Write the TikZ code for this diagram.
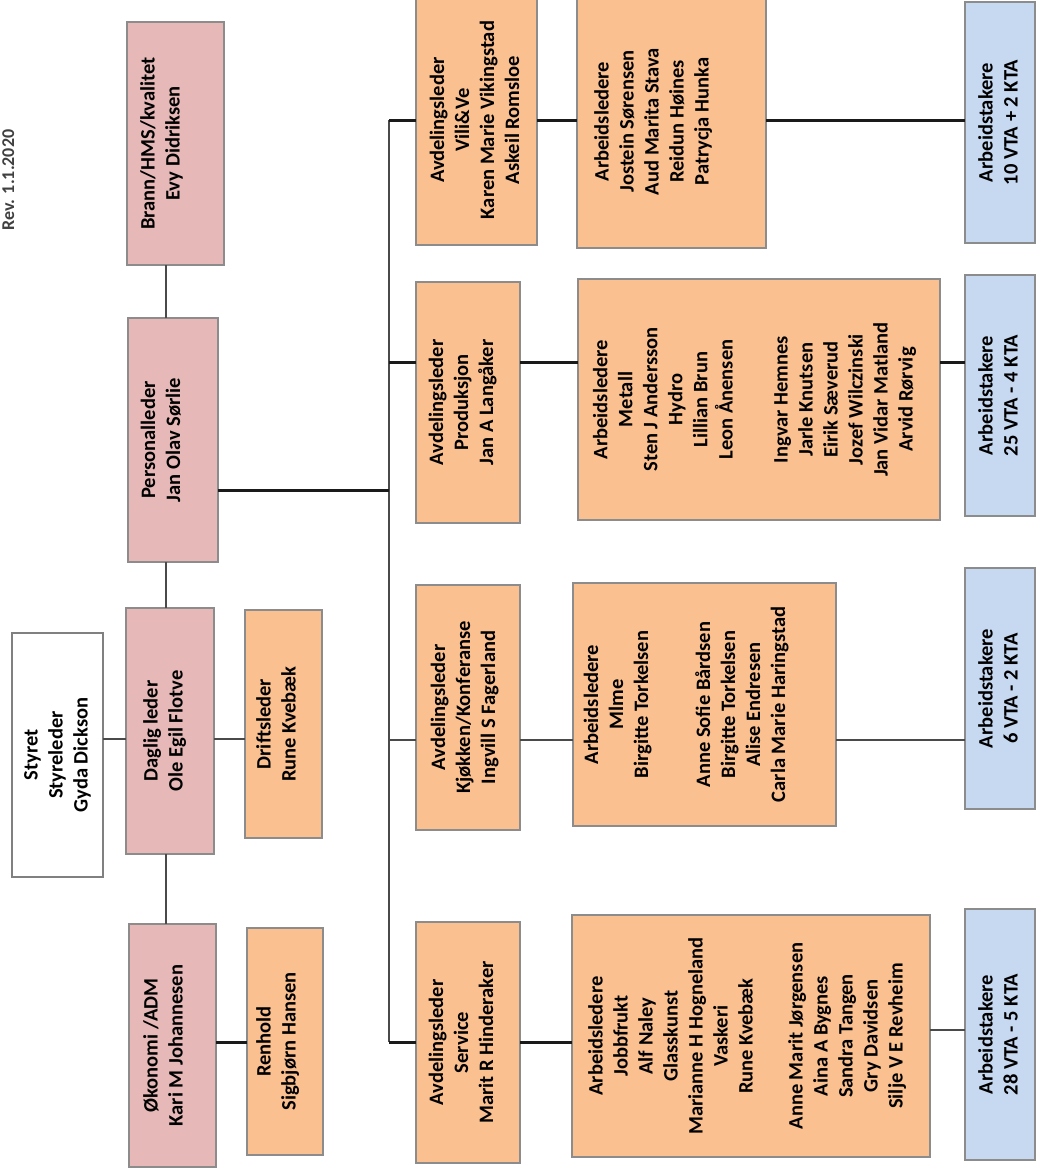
\documentclass[tikz,border=0pt]{standalone}
\usepackage{fontspec}
\setmainfont{Carlito}
\usepackage{graphicx}
\definecolor{pinkf}{HTML}{E6B9B8}
\definecolor{orangef}{HTML}{FAC090}
\definecolor{bluef}{HTML}{C6D9F1}
\definecolor{bordergray}{HTML}{8C8C8C}
\definecolor{lnthick}{HTML}{1A1A1A}
\definecolor{lnthin}{HTML}{4A4A4A}
\newcommand\rt[2][0pt]{\hspace*{#1}\rotatebox{90}{\fontsize{20.5}{25}\selectfont\bfseries\begin{tabular}{@{}c@{}}#2\end{tabular}}}
\newcommand\obox[8][0pt]{%
  \pgfmathsetmacro\bcx{(#4+#6)/2}\pgfmathsetmacro\bcy{(#5+#7)/2}%
  \pgfmathsetmacro\bw{#6-#4}\pgfmathsetmacro\bh{#7-#5}%
  \node[#2, minimum width=\bw pt, minimum height=\bh pt] (#3) at (\bcx,\bcy) {\rt[#1]{#8}};}
\tikzset{
  bx/.style={draw=bordergray, line width=1.2pt, inner sep=0pt, outer sep=0pt},
  pinkbox/.style={bx, fill=pinkf},
  orbox/.style={bx, fill=orangef},
  bluebox/.style={bx, fill=bluef},
  whitebox/.style={bx, fill=white, draw=gray},
  thickln/.style={line width=3pt, draw=lnthick},
  thinln/.style={line width=1.6pt, draw=lnthin},
  busln/.style={line width=2.2pt, draw=lnthin},
}
\begin{document}
\begin{tikzpicture}[x=1pt,y=-1pt]
\useasboundingbox (0,0) rectangle (1036,1175);
\fill[white] (0,0) rectangle (1036,1175);

% revision note at the left edge
\node[rotate=90, anchor=north, inner sep=0pt, font=\fontsize{18}{20}\selectfont\bfseries, text=black!75] (rev) at (2,180) {Rev. 1.1.2020};

% named routing coordinates
\coordinate (c1) at (166,0);
\coordinate (bus) at (389,0);
\coordinate (r1) at (0,739);
\coordinate (r2) at (0,1042);
\coordinate (rp) at (0,490);
\coordinate (rv) at (0,120);
\coordinate (rpr) at (0,362);
\coordinate (rk) at (0,740);
\coordinate (rs) at (0,1042);
\coordinate (rsb) at (0,1030);

% management column
\obox[-27pt]{pinkbox}{brann}{127}{22}{224}{265}{Brann/HMS/kvalitet\\Evy Didriksen}
\obox[-21pt]{pinkbox}{pers}{128}{318}{218}{562}{Personalleder\\Jan Olav Sørlie}
\obox[-10pt]{pinkbox}{daglig}{126}{608}{214}{854}{Daglig leder\\Ole Egil Flotve}
\obox{whitebox}{styret}{12}{633}{103}{877}{Styret\\Styreleder\\Gyda Dickson}
\obox[-11pt]{orbox}{drift}{245}{610}{322}{838}{Driftsleder\\Rune Kvebæk}
\obox[-15pt]{pinkbox}{okon}{129}{924}{216}{1167}{Økonomi /ADM\\Kari M Johannesen}
\obox[-14pt]{orbox}{renhold}{247}{928}{323}{1155}{Renhold\\Sigbjørn Hansen}

% departments
\obox{orbox}{vili}{416}{-5}{537}{245}{Avdelingsleder\\Vili\&Ve\\Karen Marie Vikingstad\\Askeil Romsloe}
\obox[-36pt]{orbox}{viliarb}{577}{-5}{766}{248}{Arbeidsledere\\Jostein Sørensen\\Aud Marita Stava\\Reidun Høines\\Patrycja Hunka}
\obox{bluebox}{viliblue}{965}{2}{1035}{243}{Arbeidstakere\\10 VTA + 2 KTA}

\obox[-10pt]{orbox}{prod}{416}{282}{520}{523}{Avdelingsleder\\Produksjon\\Jan A Langåker}
\obox[-8pt]{orbox}{prodarb}{578}{279}{940}{520}{Arbeidsledere\\Metall\\Sten J Andersson\\Hydro\\Lillian Brun\\Leon Ånensen\\[30pt]Ingvar Hemnes\\Jarle Knutsen\\Eirik Sæverud\\Jozef Wilczinski\\Jan Vidar Matland\\Arvid Rørvig}
\obox{bluebox}{prodblue}{965}{275}{1035}{516}{Arbeidstakere\\25 VTA - 4 KTA}

\obox[-6pt]{orbox}{kjok}{416}{585}{520}{830}{Avdelingsleder\\Kjøkken/Konferanse\\Ingvill S Fagerland}
\obox[-36pt]{orbox}{kjokarb}{573}{583}{836}{826}{Arbeidsledere\\Mlme\\Birgitte Torkelsen\\[37pt]Anne Sofie Bårdsen\\Birgitte Torkelsen\\Alise Endresen\\Carla Marie Haringstad}
\obox{bluebox}{kjokblue}{965}{568}{1035}{809}{Arbeidstakere\\6 VTA - 2 KTA}

\obox[-10pt]{orbox}{serv}{416}{922}{520}{1163}{Avdelingsleder\\Service\\Marit R Hinderaker}
\obox[-7pt]{orbox}{servarb}{572}{915}{930}{1157}{Arbeidsledere\\Jobbfrukt\\Alf Naley\\Glasskunst\\Marianne H Hogneland\\Vaskeri\\Rune Kvebæk\\[25pt]Anne Marit Jørgensen\\Aina A Bygnes\\Sandra Tangen\\Gry Davidsen\\Silje V E Revheim}
\obox{bluebox}{servblue}{965}{909}{1035}{1160}{Arbeidstakere\\28 VTA - 5 KTA}

% management connectors
\draw[thinln] (brann.south -| c1) -- (pers.north -| c1);
\draw[thinln] (pers.south -| c1) -- (daglig.north -| c1);
\draw[thinln] (daglig.south -| c1) -- (okon.north -| c1);
\draw[thinln] (styret.east |- r1) -- (daglig.west |- r1);
\draw[thinln] (daglig.east |- r1) -- (drift.west |- r1);
\draw[thickln] (okon.east |- r2) -- (renhold.west |- r2);

% bus
\draw[busln] (bus |- rv) -- (bus |- rs);
\draw[thickln] (pers.east |- rp) -- (bus |- rp);

% department rows
\draw[thickln] (bus |- rv) -- (vili.west |- rv);
\draw[thickln] (vili.east |- rv) -- (viliarb.west |- rv);
\draw[thickln] (viliarb.east |- rv) -- (viliblue.west |- rv);

\draw[thickln] (bus |- rpr) -- (prod.west |- rpr);
\draw[thickln] (prod.east |- rpr) -- (prodarb.west |- rpr);
\draw[thickln] (prodarb.east |- rpr) -- (prodblue.west |- rpr);

\draw[thinln] (bus |- rk) -- (kjok.west |- rk);
\draw[thinln] (kjok.east |- rk) -- (kjokarb.west |- rk);
\draw[thinln] (kjokarb.east |- rk) -- (kjokblue.west |- rk);

\draw[thickln] (bus |- rs) -- (serv.west |- rs);
\draw[thickln] (serv.east |- rs) -- (servarb.west |- rs);
\draw[thinln] (servarb.east |- rsb) -- (servblue.west |- rsb);
\end{tikzpicture}
\end{document}
